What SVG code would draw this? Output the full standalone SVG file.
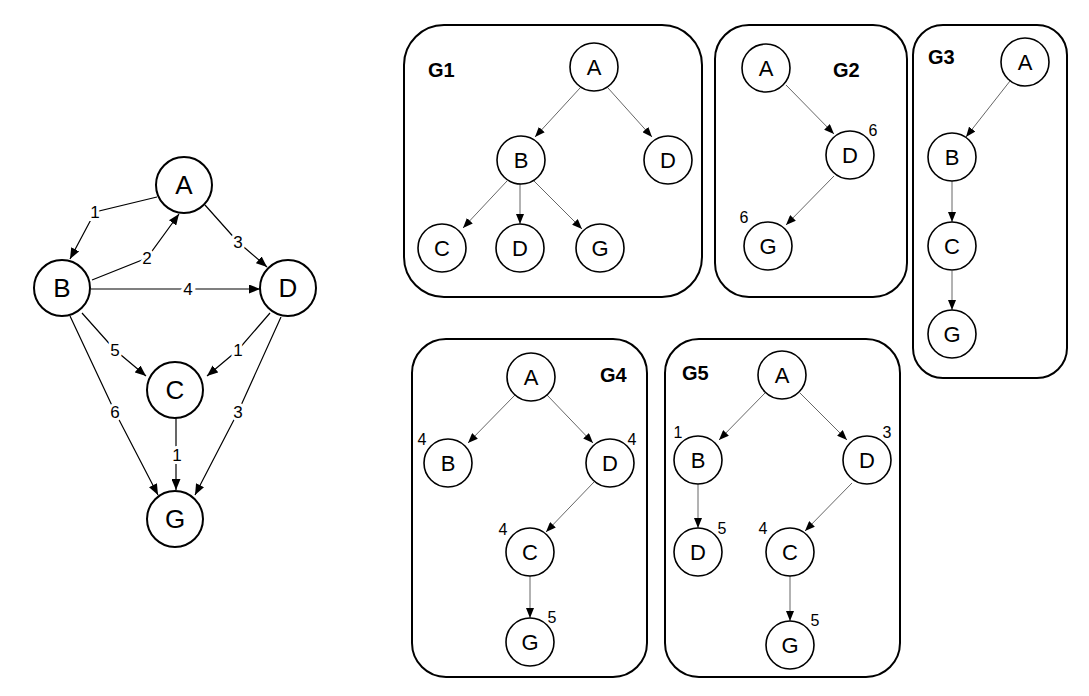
<svg xmlns="http://www.w3.org/2000/svg" width="1089" height="696" viewBox="0 0 1089 696">
<defs>
<marker id="ah" markerUnits="userSpaceOnUse" markerWidth="11" markerHeight="9" refX="11" refY="4.5" orient="auto">
<path d="M0,0 L11,4.5 L0,9 z" fill="#000"/>
</marker>
<marker id="ahs" markerUnits="userSpaceOnUse" markerWidth="10" markerHeight="8" refX="10" refY="4" orient="auto">
<path d="M0,0 L10,4 L0,8 z" fill="#000"/>
</marker>
</defs>
<style>
text{font-family:"Liberation Sans",Arial,sans-serif;fill:#000}
.bn{fill:#fff;stroke:#000;stroke-width:2}
.sn{fill:#fff;stroke:#000;stroke-width:1.6}
.bl{font-size:26px;text-anchor:middle;dominant-baseline:central}
.sl{font-size:22px;text-anchor:middle;dominant-baseline:central}
.el{font-size:17px;text-anchor:middle;dominant-baseline:central;stroke:#fff;stroke-width:6;paint-order:stroke}
.num{font-size:16px;text-anchor:middle;dominant-baseline:central}
.box{fill:none;stroke:#000;stroke-width:2}
.title{font-size:20px;font-weight:bold}
.be{fill:none;stroke:#000;stroke-width:1.2;marker-end:url(#ah)}
.se{fill:none;stroke:#666;stroke-width:1;marker-end:url(#ahs)}
</style>
<rect width="1089" height="696" fill="#fff"/>

<!-- main graph connectors -->
<g id="main-edges">
<polyline class="be" points="157,197 95,212 70,259"/>
<polyline class="be" points="92,280 147,258 179,214"/>
<polyline class="be" points="205,205 238,242 267,267"/>
<line class="be" x1="91" y1="289" x2="260" y2="289"/>
<polyline class="be" points="82,313 115,350 146,376"/>
<polyline class="be" points="270,313 238,350 207,376"/>
<line class="be" x1="176" y1="416" x2="176" y2="490"/>
<polyline class="be" points="70,316 115,412 158,495"/>
<polyline class="be" points="281,317 238,412 195,495"/>
<text class="el" x="95" y="212">1</text>
<text class="el" x="147" y="258">2</text>
<text class="el" x="238" y="242">3</text>
<text class="el" x="188" y="289">4</text>
<text class="el" x="115" y="350">5</text>
<text class="el" x="238" y="350">1</text>
<text class="el" x="177" y="455">1</text>
<text class="el" x="115" y="412">6</text>
<text class="el" x="238" y="412">3</text>
</g>
<g id="main-A"><circle class="bn" cx="184" cy="185" r="28"/><text class="bl" x="184" y="185">A</text></g>
<g id="main-B"><circle class="bn" cx="62" cy="288" r="28"/><text class="bl" x="62" y="288">B</text></g>
<g id="main-D"><circle class="bn" cx="288" cy="288" r="28"/><text class="bl" x="288" y="288">D</text></g>
<g id="main-C"><circle class="bn" cx="175" cy="390" r="28"/><text class="bl" x="175" y="390">C</text></g>
<g id="main-G"><circle class="bn" cx="175" cy="519" r="28"/><text class="bl" x="175" y="519">G</text></g>

<!-- G1 -->
<g id="G1">
<rect class="box" x="404" y="25" width="298" height="272" rx="40"/>
<text class="title" x="428" y="77">G1</text>
<g id="G1-edges">
<line class="se" x1="580" y1="88" x2="535" y2="137"/>
<line class="se" x1="608" y1="88" x2="652" y2="137"/>
<line class="se" x1="507" y1="181" x2="463" y2="228"/>
<line class="se" x1="520" y1="184" x2="520" y2="224"/>
<line class="se" x1="534" y1="181" x2="582" y2="229"/>
</g>
<g id="G1-A"><circle class="sn" cx="594" cy="67" r="24"/><text class="sl" x="594" y="67">A</text></g>
<g id="G1-B"><circle class="sn" cx="521" cy="160" r="24"/><text class="sl" x="521" y="160">B</text></g>
<g id="G1-D1"><circle class="sn" cx="668" cy="160" r="24"/><text class="sl" x="668" y="160">D</text></g>
<g id="G1-C"><circle class="sn" cx="442" cy="248" r="24"/><text class="sl" x="442" y="248">C</text></g>
<g id="G1-D2"><circle class="sn" cx="520" cy="248" r="24"/><text class="sl" x="520" y="248">D</text></g>
<g id="G1-G"><circle class="sn" cx="600" cy="248" r="24"/><text class="sl" x="600" y="248">G</text></g>
</g>

<!-- G2 -->
<g id="G2">
<rect class="box" x="715" y="25" width="192" height="272" rx="34"/>
<text class="title" x="833" y="77">G2</text>
<g id="G2-edges">
<line class="se" x1="786" y1="85" x2="834" y2="134"/>
<line class="se" x1="834" y1="176" x2="786" y2="225"/>
</g>
<g id="G2-A"><circle class="sn" cx="766" cy="68" r="24"/><text class="sl" x="766" y="68">A</text></g>
<g id="G2-D"><circle class="sn" cx="850" cy="155" r="24"/><text class="sl" x="850" y="155">D</text><text class="num" x="873" y="130">6</text></g>
<g id="G2-G"><circle class="sn" cx="768" cy="246" r="24"/><text class="sl" x="768" y="246">G</text><text class="num" x="744" y="217">6</text></g>
</g>

<!-- G3 -->
<g id="G3">
<rect class="box" x="913" y="25" width="154" height="353" rx="30"/>
<text class="title" x="928" y="64">G3</text>
<g id="G3-edges">
<line class="se" x1="1010" y1="81" x2="966" y2="137"/>
<line class="se" x1="952" y1="181" x2="952" y2="222"/>
<line class="se" x1="952" y1="271" x2="952" y2="310"/>
</g>
<g id="G3-A"><circle class="sn" cx="1025" cy="62" r="24"/><text class="sl" x="1025" y="62">A</text></g>
<g id="G3-B"><circle class="sn" cx="952" cy="157" r="24"/><text class="sl" x="952" y="157">B</text></g>
<g id="G3-C"><circle class="sn" cx="952" cy="246" r="24"/><text class="sl" x="952" y="246">C</text></g>
<g id="G3-G"><circle class="sn" cx="952" cy="334" r="24"/><text class="sl" x="952" y="334">G</text></g>
</g>

<!-- G4 -->
<g id="G4">
<rect class="box" x="412" y="339" width="235" height="338" rx="34"/>
<text class="title" x="600" y="382">G4</text>
<g id="G4-edges">
<line class="se" x1="515" y1="395" x2="468" y2="443"/>
<line class="se" x1="547" y1="395" x2="593" y2="443"/>
<line class="se" x1="594" y1="482" x2="546" y2="532"/>
<line class="se" x1="530" y1="576" x2="530" y2="618"/>
</g>
<g id="G4-A"><circle class="sn" cx="531" cy="377" r="24"/><text class="sl" x="531" y="377">A</text></g>
<g id="G4-B"><circle class="sn" cx="448" cy="463" r="24"/><text class="sl" x="448" y="463">B</text><text class="num" x="422" y="439">4</text></g>
<g id="G4-D"><circle class="sn" cx="610" cy="463" r="24"/><text class="sl" x="610" y="463">D</text><text class="num" x="632" y="439">4</text></g>
<g id="G4-C"><circle class="sn" cx="530" cy="552" r="24"/><text class="sl" x="530" y="552">C</text><text class="num" x="503" y="529">4</text></g>
<g id="G4-G"><circle class="sn" cx="530" cy="642" r="24"/><text class="sl" x="530" y="642">G</text><text class="num" x="552" y="617">5</text></g>
</g>

<!-- G5 -->
<g id="G5">
<rect class="box" x="665" y="339" width="235" height="338" rx="34"/>
<text class="title" x="682" y="380">G5</text>
<g id="G5-edges">
<line class="se" x1="765" y1="393" x2="719" y2="440"/>
<line class="se" x1="800" y1="393" x2="847" y2="440"/>
<line class="se" x1="698" y1="484" x2="698" y2="528"/>
<line class="se" x1="852" y1="483" x2="805" y2="531"/>
<line class="se" x1="790" y1="576" x2="790" y2="621"/>
</g>
<g id="G5-A"><circle class="sn" cx="782" cy="375" r="24"/><text class="sl" x="782" y="375">A</text></g>
<g id="G5-B"><circle class="sn" cx="698" cy="460" r="24"/><text class="sl" x="698" y="460">B</text><text class="num" x="678" y="432">1</text></g>
<g id="G5-D1"><circle class="sn" cx="867" cy="460" r="24"/><text class="sl" x="867" y="460">D</text><text class="num" x="887" y="432">3</text></g>
<g id="G5-D2"><circle class="sn" cx="698" cy="552" r="24"/><text class="sl" x="698" y="552">D</text><text class="num" x="722" y="528">5</text></g>
<g id="G5-C"><circle class="sn" cx="790" cy="552" r="24"/><text class="sl" x="790" y="552">C</text><text class="num" x="763" y="528">4</text></g>
<g id="G5-G"><circle class="sn" cx="790" cy="645" r="24"/><text class="sl" x="790" y="645">G</text><text class="num" x="815" y="620">5</text></g>
</g>
</svg>
